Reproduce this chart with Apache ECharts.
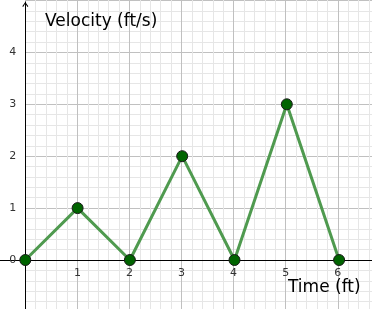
<!DOCTYPE html>
<html>
<head>
<meta charset="utf-8">
<script src="https://cdn.jsdelivr.net/npm/echarts@6/dist/echarts.min.js"></script>
<style>
html,body{margin:0;padding:0;background:#fff;}
#chart{width:372px;height:309px;}
</style>
</head>
<body>
<div id="chart"></div>
<script>
// Data
const timeValues = [0, 1, 2, 3, 4, 5, 6];
const velocityValues = [0, 1, 0, 2, 0, 3, 0];
const xTickLabels = [1, 2, 3, 4, 5, 6];
const yTickLabels = [0, 1, 2, 3, 4];
const xAxisTitle = 'Time (ft)';
const yAxisTitle = 'Velocity (ft/s)';

// layout constants
const W = 372, H = 309;
const x0px = 25.3, y0px = 260;
const sx = 52.3, sy = 51.9;

const majorColor = '#c0c0c0';
const minorColor = '#e6e6e6';
const font = 'DejaVu Sans';

function isTick(v, list) {
  const r = Math.round(v * 1000) / 1000;
  return list.indexOf(r) >= 0;
}

const points = timeValues.map((t, i) => [t, velocityValues[i]]);

const chart = echarts.init(document.getElementById('chart'), null, {renderer: 'canvas'});
const option = {
  animation: false,
  backgroundColor: '#ffffff',
  grid: [
    {left: x0px, top: 0, width: 6.6 * sx, height: H},
    {left: x0px, right: 0, top: y0px - 5 * sy, bottom: H - (y0px + 0.8 * sy)},
    {left: 0, top: 2, width: W, bottom: 0}
  ],
  xAxis: [
    {
      gridIndex: 0, type: 'value', min: 0, max: 6.6, interval: 0.2,
      position: 'bottom', offset: -(H - y0px),
      axisLine: {show: false, onZero: false},
      axisTick: {show: false},
      axisLabel: {
        show: true, margin: 8, color: '#333', fontSize: 11, fontFamily: font,
        showMinLabel: true, showMaxLabel: true,
        formatter: v => isTick(v, xTickLabels) ? String(Math.round(v)) : ''
      },
      splitLine: {show: true, lineStyle: {color: [majorColor, minorColor, minorColor, minorColor, minorColor], width: 1}}
    },
    {
      gridIndex: 1, type: 'value', min: 0, max: (W - x0px) / sx,
      show: false
    },
    {
      gridIndex: 2, type: 'value', min: -x0px / sx, max: (W - x0px) / sx,
      axisLine: {show: true, onZero: true, lineStyle: {color: '#000', width: 1}},
      axisTick: {show: false}, axisLabel: {show: false}, splitLine: {show: false}
    }
  ],
  yAxis: [
    {
      gridIndex: 0, type: 'value', min: -(H - y0px) / sy, max: y0px / sy,
      show: false
    },
    {
      gridIndex: 1, type: 'value', min: -0.8, max: 5, interval: 0.2,
      axisLine: {show: false, onZero: true},
      axisTick: {show: false},
      axisLabel: {
        show: true, margin: 9, color: '#333', fontSize: 11, fontFamily: font,
        showMinLabel: true, showMaxLabel: true,
        formatter: v => isTick(v, yTickLabels) ? String(Math.round(v)) : ''
      },
      splitLine: {show: true, lineStyle: {color: [minorColor, minorColor, minorColor, minorColor, majorColor], width: 1}}
    },
    {
      gridIndex: 2, type: 'value', min: -(H - y0px) / sy, max: (y0px - 2) / sy,
      axisLine: {
        show: true, onZero: true, lineStyle: {color: '#000', width: 1},
        symbol: ['none', 'path://M0,5 L3.5,0 L7,5 L6,5.8 L3.5,1.6 L1,5.8 Z'],
        symbolSize: [8, 5],
        symbolOffset: [0, -2.5]
      },
      axisTick: {show: false}, axisLabel: {show: false}, splitLine: {show: false}
    }
  ],
  graphic: [
    {type: 'text', left: 45, top: 13, z: 100, style: {text: yAxisTitle, font: '17px "DejaVu Sans"', fill: '#000', stroke: null, lineWidth: 0}},
    {type: 'text', left: 288, top: 279, z: 100, style: {text: xAxisTitle, font: '17px "DejaVu Sans"', fill: '#000', stroke: null, lineWidth: 0}}
  ],
  series: [
    {
      type: 'line',
      xAxisIndex: 2, yAxisIndex: 2,
      data: points,
      clip: false,
      lineStyle: {color: '#4f9a4f', width: 3},
      symbol: 'circle',
      symbolSize: 11,
      itemStyle: {color: '#006400', borderColor: '#1a1a1a', borderWidth: 1},
      z: 5
    }
  ]
};
chart.setOption(option);
</script>
</body>
</html>
